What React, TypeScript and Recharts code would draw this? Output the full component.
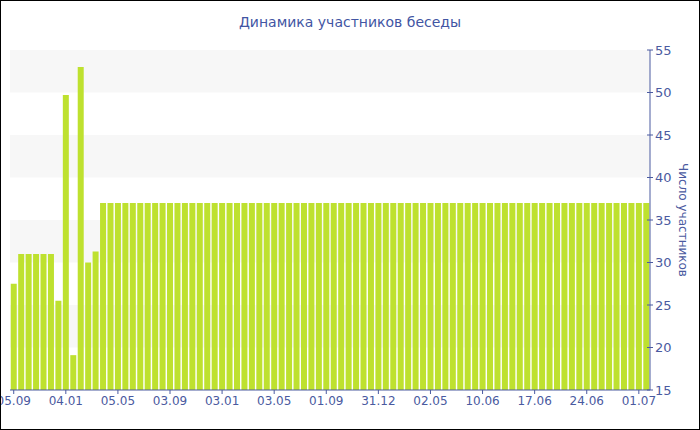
import { Bar, BarChart, ReferenceArea, XAxis, YAxis } from "recharts";

const TITLE = "Динамика участников беседы";
const Y_LABEL = "Число участников";

// every 7th bar carries a date label
const tickLabels = [
  "05.09",
  "04.01",
  "05.05",
  "03.09",
  "03.01",
  "03.05",
  "01.09",
  "31.12",
  "02.05",
  "10.06",
  "17.06",
  "24.06",
  "01.07",
];

const members = [
  27.5, 31, 31, 31, 31, 31, 25.5, 49.7, 19.1, 53, 30, 31.3, 37, 37, 37, 37,
  37, 37, 37, 37, 37, 37, 37, 37, 37, 37, 37, 37, 37, 37, 37, 37, 37, 37, 37,
  37, 37, 37, 37, 37, 37, 37, 37, 37, 37, 37, 37, 37, 37, 37, 37, 37, 37, 37,
  37, 37, 37, 37, 37, 37, 37, 37, 37, 37, 37, 37, 37, 37, 37, 37, 37, 37, 37,
  37, 37, 37, 37, 37, 37, 37, 37, 37, 37, 37, 37, 37,
];

const yTicks = [
  15, 17.5, 20, 22.5, 25, 27.5, 30, 32.5, 35, 37.5, 40, 42.5, 45, 47.5, 50,
  52.5, 55,
];

// shaded horizontal bands [from, to]
const bands = [
  [50, 55],
  [40, 45],
  [30, 35],
  [20, 25],
];

const BLUE = "#4a5aa0";
const FONT = "Verdana, 'DejaVu Sans', sans-serif";

const data = members.map((v, i) => ({ idx: i, members: v }));

function YTick(props: any) {
  const { x, y, payload } = props;
  const major = payload.value % 5 === 0;

  if (!major) {
    return <line x1={x - 3} x2={x} y1={y} y2={y} stroke={BLUE} />;
  }

  return (
    <g>
      <line x1={x - 3} x2={x + 3} y1={y} y2={y} stroke={BLUE} />
      <text
        x={x + 5}
        y={y}
        dy="0.36em"
        textAnchor="start"
        fill={BLUE}
        fontSize={13}
        fontFamily={FONT}
      >
        {payload.value}
      </text>
    </g>
  );
}

export default function App() {
  return (
    <div
      style={{
        position: "relative",
        width: 700,
        height: 430,
        overflow: "hidden",
        background: "#fff",
      }}
    >
      <style>{`body { margin: 0; }`}</style>

      {/* TITLE */}
      <div
        style={{
          position: "absolute",
          top: 14,
          left: 0,
          width: 700,
          textAlign: "center",
          fontFamily: FONT,
          fontSize: 14,
          color: "#4255a3",
        }}
      >
        {TITLE}
      </div>

      <BarChart
        width={700}
        height={430}
        data={data}
        margin={{ top: 50, right: 0, left: 10, bottom: 0 }}
        barCategoryGap="10%"
      >
        {bands.map(([from, to]) => (
          <ReferenceArea
            key={from}
            y1={from}
            y2={to}
            fill="#f7f7f7"
            fillOpacity={1}
            stroke="none"
            ifOverflow="hidden"
          />
        ))}

        <XAxis
          dataKey="idx"
          interval={6}
          height={40}
          tickSize={4}
          tickMargin={2}
          axisLine={{ stroke: BLUE }}
          tickLine={{ stroke: BLUE }}
          tickFormatter={(i: number) => tickLabels[i / 7] ?? ""}
          tick={{ fill: BLUE, fontSize: 12, fontFamily: FONT }}
        />

        <YAxis
          orientation="right"
          type="number"
          domain={[15, 55]}
          ticks={yTicks}
          width={50}
          tickSize={0}
          tickMargin={0}
          axisLine={{ stroke: BLUE }}
          tickLine={false}
          tick={<YTick />}
          label={{
            content: ({ viewBox }: any) => {
              const cx = viewBox.x + 33;
              const cy = viewBox.y + viewBox.height / 2;
              return (
                <text
                  x={cx}
                  y={cy}
                  transform={`rotate(90, ${cx}, ${cy})`}
                  textAnchor="middle"
                  dominantBaseline="central"
                  fill={BLUE}
                  fontSize={12}
                  fontFamily={FONT}
                >
                  {Y_LABEL}
                </text>
              );
            },
          }}
        />

        <Bar dataKey="members" fill="#bee12f" isAnimationActive={false} />
      </BarChart>

      {/* FRAME */}
      <div
        style={{
          position: "absolute",
          inset: 0,
          border: "1px solid #000",
          pointerEvents: "none",
        }}
      />
    </div>
  );
}
